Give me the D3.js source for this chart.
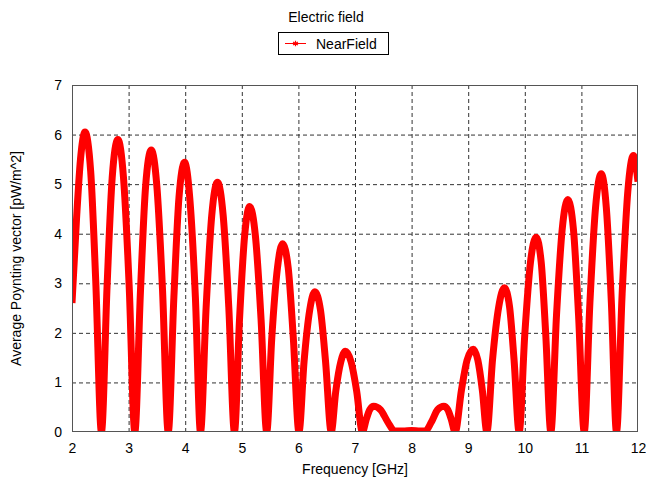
<!DOCTYPE html>
<html>
<head>
<meta charset="utf-8">
<script src="https://cdn.jsdelivr.net/npm/d3@7"></script>
<style>
  body { margin: 0; background: #fff; }
  text { font-family: "Liberation Sans", Arial, sans-serif; }
</style>
</head>
<body>
<div id="chart"></div>
<script>

// Chart data
const freq = [
  2.00, 2.08, 2.15, 2.23, 2.33, 2.42, 2.52,
  2.62, 2.71, 2.81, 2.91, 3.01, 3.11,
  3.21, 3.30, 3.40, 3.50, 3.60, 3.70,
  3.80, 3.89, 3.99, 4.08, 4.18, 4.27,
  4.37, 4.47, 4.57, 4.67, 4.77, 4.87,
  4.96, 5.05, 5.14, 5.24, 5.34, 5.44,
  5.53, 5.63, 5.72, 5.82, 5.91, 6.01,
  6.10, 6.20, 6.29, 6.39, 6.48, 6.58,
  6.66, 6.75, 6.83, 6.93, 7.03, 7.13,
  7.20, 7.26, 7.33, 7.45, 7.58, 7.70,
  7.85, 8.00, 8.15, 8.24,
  8.35, 8.46, 8.57, 8.64, 8.70, 8.77,
  8.88, 8.98, 9.09, 9.17, 9.25, 9.33,
  9.43, 9.54, 9.64, 9.73, 9.81, 9.90,
  10.00, 10.10, 10.20, 10.29, 10.37, 10.46,
  10.56, 10.66, 10.76, 10.86, 10.95, 11.05,
  11.15, 11.25, 11.35, 11.44, 11.53, 11.62,
  11.72, 11.82, 11.92, 12.00
];
const power = [
  2.60, 4.30, 5.50, 6.05, 5.26, 3.03, 0.00,
  2.95, 5.13, 5.90, 5.13, 2.95, 0.00,
  2.85, 4.95, 5.69, 4.95, 2.85, 0.00,
  2.72, 4.73, 5.44, 4.73, 2.72, 0.00,
  2.52, 4.38, 5.04, 4.38, 2.52, 0.00,
  2.28, 3.96, 4.55, 3.96, 2.28, 0.00,
  1.90, 3.31, 3.80, 3.31, 1.90, 0.00,
  1.42, 2.46, 2.83, 2.46, 1.42, 0.00,
  0.82, 1.42, 1.63, 1.42, 0.82, 0.00,
  0.26, 0.45, 0.52, 0.45, 0.20, 0.02,
  0.02, 0.03, 0.02, 0.02,
  0.20, 0.45, 0.52, 0.45, 0.26, 0.00,
  0.84, 1.45, 1.67, 1.45, 0.84, 0.00,
  1.46, 2.53, 2.91, 2.53, 1.46, 0.00,
  1.97, 3.42, 3.93, 3.42, 1.97, 0.00,
  2.35, 4.08, 4.69, 4.08, 2.35, 0.00,
  2.60, 4.53, 5.21, 4.53, 2.60, 0.00,
  2.79, 4.85, 5.58, 5.05
];
const xTicks = [2, 3, 4, 5, 6, 7, 8, 9, 10, 11, 12];
const yTicks = [0, 1, 2, 3, 4, 5, 6, 7];
const seriesName = "NearField";

const data = freq.map((f, i) => ({f: f, p: power[i]}));

// Set dimensions and margins
const width = 646;
const height = 486;
const margin = {left: 72, right: 8, top: 85, bottom: 54};
const fontSize = "14px";

const svg = d3.select("#chart")
  .append("svg")
  .attr("width", width)
  .attr("height", height);

// scales
const xScale = d3.scaleLinear()
  .domain([2, 12])
  .range([margin.left, width - margin.right]);

const yScale = d3.scaleLinear()
  .domain([0, 7])
  .range([height - margin.bottom, margin.top]);

const plotW = width - margin.left - margin.right;
const plotH = height - margin.top - margin.bottom;

// dashed grid
svg.append("g")
  .attr("transform", `translate(0,${height - margin.bottom})`)
  .call(d3.axisBottom(xScale).tickValues(xTicks.slice(1, -1)).tickSize(-plotH).tickFormat(""))
  .call(g => g.select(".domain").remove())
  .selectAll("line")
    .attr("stroke", "#333")
    .attr("stroke-dasharray", "4,3");

svg.append("g")
  .attr("transform", `translate(${margin.left},0)`)
  .call(d3.axisLeft(yScale).tickValues(yTicks.slice(1, -1)).tickSize(-plotW).tickFormat(""))
  .call(g => g.select(".domain").remove())
  .selectAll("line")
    .attr("stroke", "#333")
    .attr("stroke-dasharray", "4,3");

// tick labels
svg.append("g")
  .attr("transform", `translate(0,${height - margin.bottom})`)
  .call(d3.axisBottom(xScale).tickValues(xTicks).tickSize(0).tickPadding(11).tickFormat(d3.format("d")))
  .call(g => g.select(".domain").remove())
  .selectAll("text")
    .attr("font-size", fontSize)
    .attr("font-family", "Liberation Sans, Arial, sans-serif")
    .attr("fill", "#000");

svg.append("g")
  .attr("transform", `translate(${margin.left},0)`)
  .call(d3.axisLeft(yScale).tickValues(yTicks).tickSize(0).tickPadding(10).tickFormat(d3.format("d")))
  .call(g => g.select(".domain").remove())
  .selectAll("text")
    .attr("font-size", fontSize)
    .attr("font-family", "Liberation Sans, Arial, sans-serif")
    .attr("fill", "#000");

// clip the thick line to the plot area
svg.append("clipPath")
  .attr("id", "plot-clip")
  .append("rect")
    .attr("x", margin.left)
    .attr("y", margin.top)
    .attr("width", plotW)
    .attr("height", plotH);

const line = d3.line()
  .x(d => xScale(d.f))
  .y(d => yScale(d.p))
  .curve(d3.curveMonotoneX);

svg.append("path")
  .datum(data)
  .attr("clip-path", "url(#plot-clip)")
  .attr("fill", "none")
  .attr("stroke", "#ff0000")
  .attr("stroke-width", 7)
  .attr("stroke-linejoin", "round")
  .attr("d", line);

// frame
svg.append("rect")
  .attr("x", margin.left + 0.5)
  .attr("y", margin.top + 0.5)
  .attr("width", plotW - 1)
  .attr("height", plotH - 1)
  .attr("fill", "none")
  .attr("stroke", "#555");

// title
svg.append("text")
  .attr("x", width / 2 + 3)
  .attr("y", 22)
  .attr("text-anchor", "middle")
  .attr("font-size", fontSize)
  .text("Electric field");

// legend
const legend = svg.append("g");
legend.append("rect")
  .attr("x", 278.5).attr("y", 32.5)
  .attr("width", 110).attr("height", 22)
  .attr("fill", "#fff")
  .attr("stroke", "#000");
legend.append("line")
  .attr("x1", 285).attr("x2", 306)
  .attr("y1", 43.5).attr("y2", 43.5)
  .attr("stroke", "#ff0000");
legend.append("path")
  .attr("transform", "translate(295.5,43.5)")
  .attr("d", d3.symbol(d3.symbolAsterisk, 22)())
  .attr("stroke", "#ff0000")
  .attr("stroke-width", 1.2);
legend.append("text")
  .attr("x", 316)
  .attr("y", 49)
  .attr("font-size", fontSize)
  .text(seriesName);

// axis titles
svg.append("text")
  .attr("x", (margin.left + width - margin.right) / 2)
  .attr("y", 474)
  .attr("text-anchor", "middle")
  .attr("font-size", fontSize)
  .text("Frequency [GHz]");

svg.append("text")
  .attr("transform", `translate(21,${(margin.top + height - margin.bottom) / 2}) rotate(-90)`)
  .attr("text-anchor", "middle")
  .attr("font-size", fontSize)
  .text("Average Poynting vector [pW/m^2]");

</script>
</body>
</html>
